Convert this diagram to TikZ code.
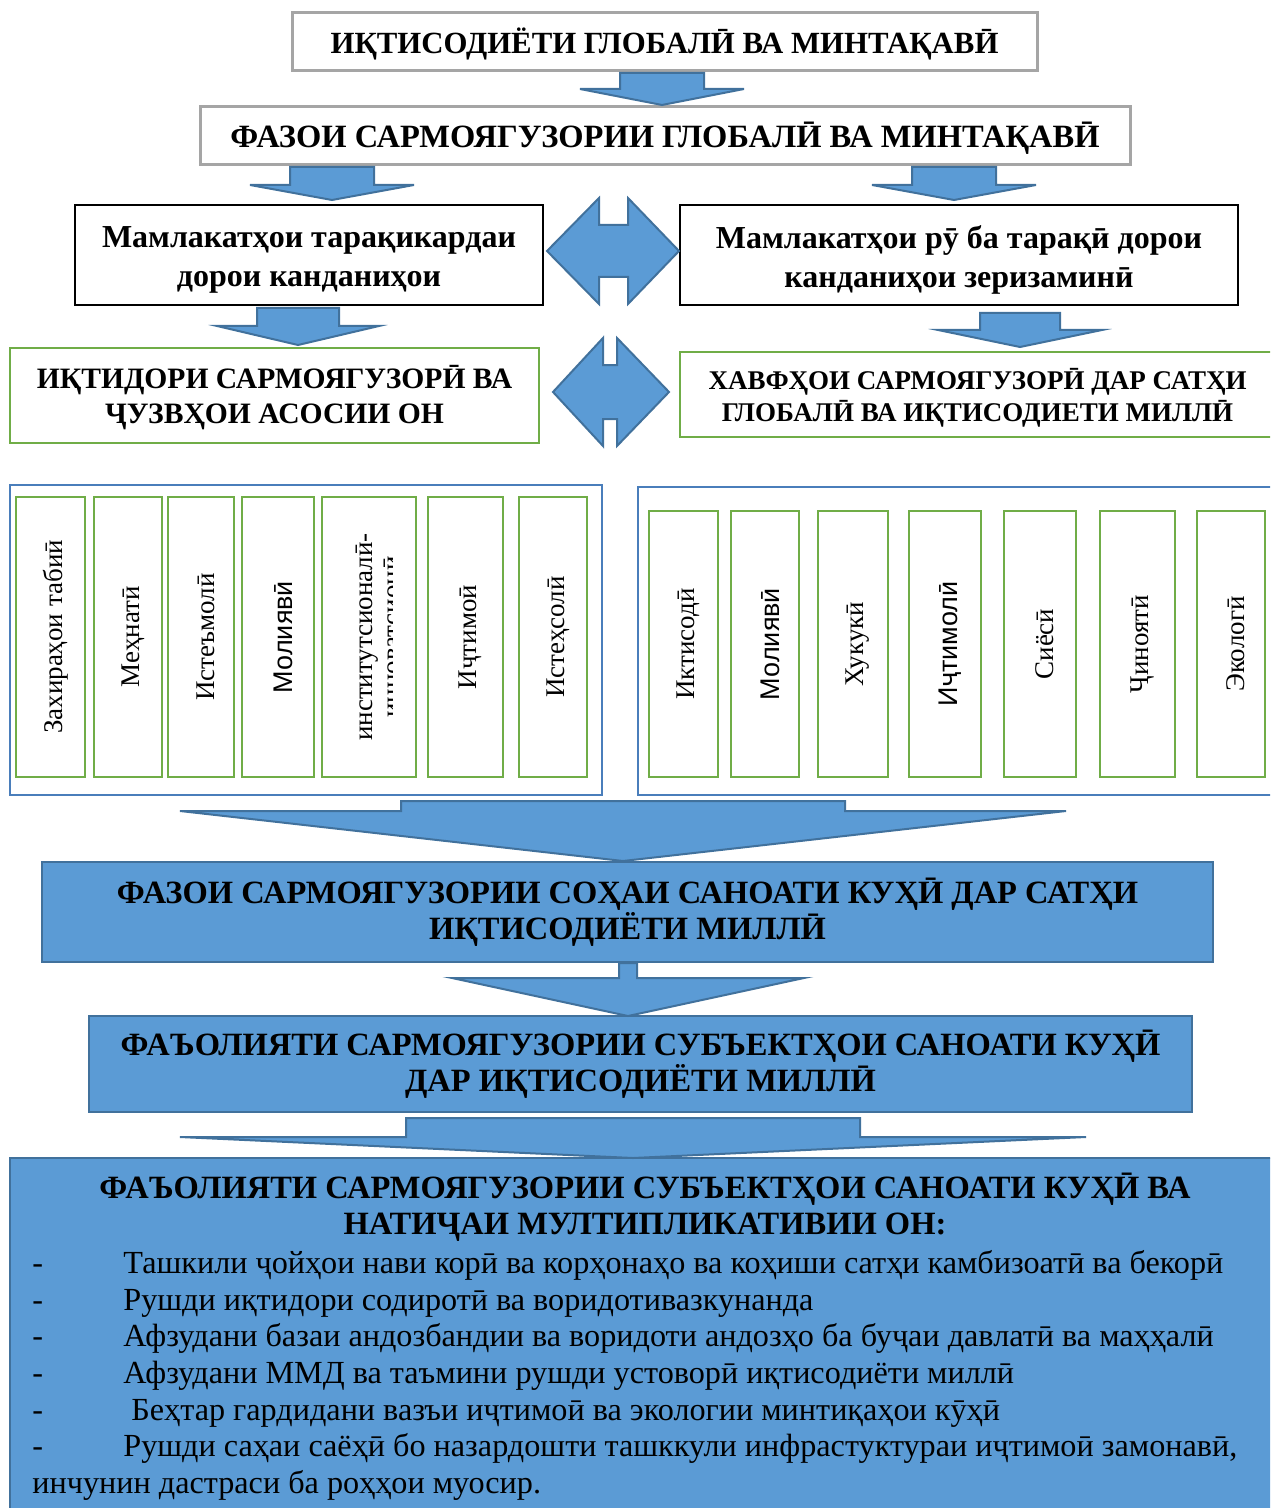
\documentclass[tikz,border=0pt]{standalone}
\usepackage{fontspec}
\setmainfont{Liberation Serif}
\newfontfamily\arialfont{Liberation Sans}
\usetikzlibrary{positioning}

\definecolor{fillblue}{HTML}{5B9BD5}
\definecolor{edgeblue}{HTML}{41719C}
\definecolor{panelblue}{HTML}{4A7EBB}
\definecolor{boxgreen}{HTML}{70AD47}
\definecolor{boxgray}{HTML}{A5A5A5}

\newcommand\headfont{\bfseries\fontsize{16}{19.5}\selectfont}
\newcommand\capsfont{\bfseries\fontsize{16.25}{18}\selectfont}
\newcommand\listfont{\fontsize{16.1}{18.35}\selectfont}
\newcommand\barfont{\fontsize{13.5}{16}\selectfont}
\newcommand\listdash{\makebox[45.5pt][l]{-}}

% block arrow pointing down: x, shaft half, head half, top y, head y, tip y
\newcommand\downblock[6]{%
  \draw[blockarrow] (#1-#2,#4) -- (#1+#2,#4) -- (#1+#2,#5) -- (#1+#3,#5)
    -- (#1,#6) -- (#1-#3,#5) -- (#1-#2,#5) -- cycle;}
% left-right arrow: left x, right x, mid y, notch x1, notch x2, half height, shaft half
\newcommand\twinblock[7]{%
  \draw[blockarrow] (#1,#3) -- (#4,#3-#6) -- (#4,#3-#7) -- (#5,#3-#7)
    -- (#5,#3-#6) -- (#2,#3) -- (#5,#3+#6) -- (#5,#3+#7) -- (#4,#3+#7)
    -- (#4,#3+#6) -- cycle;}

\tikzset{
  blockarrow/.style={fill=fillblue, draw=edgeblue, line width=1pt, line join=miter},
  graybox/.style={draw=boxgray, line width=1.5pt, fill=white, align=center, font=\capsfont},
  blackbox/.style={draw=black, line width=0.8pt, fill=white, align=center, font=\headfont},
  greenbox/.style={draw=boxgreen, line width=1.3pt, fill=white, align=center, font=\capsfont},
  bluebox/.style={draw=edgeblue, line width=1.3pt, fill=fillblue, align=center, font=\capsfont},
  greenbar/.style={draw=boxgreen, line width=1.2pt, rotate=90},
  barlabel/.style={rotate=90, font=\barfont, inner sep=0pt, yshift=-2.5pt},
  panel/.style={draw=panelblue, line width=1pt}
}

\begin{document}
\begin{tikzpicture}[x=0.5pt,y=-0.5pt]
  \clip (0,0) rectangle (1270,1508);

  % upper levels
  \node[graybox, minimum width=372.5pt, minimum height=29pt] (economy) at (664.5,42) {};
  \node[font=\bfseries\fontsize{15.4}{18}\selectfont] (economytext) at (664.5,44)
    {ИҚТИСОДИЁТИ ГЛОБАЛӢ ВА МИНТАҚАВӢ};
  \node[graybox, minimum width=465pt, minimum height=29pt] (space) at (665,136) {};
  \node[font=\capsfont] (spacetext) at (665,138)
    {ФАЗОИ САРМОЯГУЗОРИИ ГЛОБАЛӢ ВА МИНТАҚАВӢ};
  \node[blackbox, minimum width=234pt, minimum height=50pt] (developed) at (309,255) {};
  \node[font=\headfont, align=center] at (309,260)
    {Мамлакатҳои тарақикардаи\\дорои канданиҳои};
  \node[blackbox, minimum width=279pt, minimum height=50pt] (developing) at (959,255) {};
  \node[font=\headfont, align=center] at (959,260)
    {Мамлакатҳои рӯ ба тарақӣ дорои\\канданиҳои зеризаминӣ};
  \node[greenbox, minimum width=264.5pt, minimum height=47.5pt] (potential) at (274.5,395.5) {};
  \node[font=\bfseries\fontsize{14.8}{17.5}\selectfont, align=center] at (274.5,398)
    {ИҚТИДОРИ САРМОЯГУЗОРӢ ВА\\ҶУЗВҲОИ АСОСИИ ОН};
  \node[greenbox, minimum width=297.5pt, minimum height=42.5pt] (risks) at (977.5,394.5) {};
  \node[font=\bfseries\fontsize{13.5}{16}\selectfont, align=center] at (977.5,398)
    {ХАВФҲОИ САРМОЯГУЗОРӢ ДАР САТҲИ\\ГЛОБАЛӢ ВА ИҚТИСОДИЕТИ МИЛЛӢ};

  \downblock{662}{42}{82}{73}{89}{105}
  \downblock{332}{42}{82}{167}{185}{200}
  \downblock{954}{42}{82}{167}{185}{200}
  \downblock{298}{41}{81}{308}{326}{345}
  \downblock{1020}{40}{82}{313}{330}{347}
  \twinblock{547}{679}{251}{599}{628}{53}{26}
  \twinblock{553}{669}{392}{603}{617}{54}{27}

  % panels of components and risks
  \draw[panel] (10,485) rectangle (602,795);
  \draw[panel] (638,487) rectangle (1280,795);
  \foreach \xa/\xb/\txt [count=\i] in {16/85/{Захираҳои табиӣ}, 94/162/Меҳнатӣ,
      168/234/Истеъмолӣ, 242/314/{\arialfont Молиявӣ}, 428/503/Иҷтимоӣ, 519/587/Истеҳсолӣ}
  {
    \node[greenbar, minimum width=140pt, minimum height={(\xb-\xa)*0.5pt}] (partL\i)
      at ({(\xa+\xb)/2},637) {};
    \node[barlabel] at (partL\i) {\txt};
  }
  \begin{scope}
    \clip (322,497) rectangle (392,777);
    \node[rotate=90, font=\fontsize{13.5}{14}\selectfont, align=center] (instlabel)
      at (378,637) {институтсионалӣ-\\инноватсионӣ};
  \end{scope}
  \node[greenbar, minimum width=140pt, minimum height=47pt] (partInst) at (369,637) {};
  \foreach \xa/\xb/\txt [count=\i] in {649/718/Иктисодӣ, 731/799/{\arialfont Молиявӣ},
      818/888/Хукукӣ, 909/981/{\arialfont Иҷтимолӣ}, 1004/1076/Сиёсӣ, 1100/1175/Ҷиноятӣ,
      1197/1265/Экологӣ}
  {
    \node[greenbar, minimum width=133pt, minimum height={(\xb-\xa)*0.5pt}] (partR\i)
      at ({(\xa+\xb)/2},644) {};
    \node[barlabel] at (partR\i) {\txt};
  }

  % lower levels
  \node[bluebox, minimum width=585.5pt, minimum height=50pt] (industry) at (627.5,912)
    {ФАЗОИ САРМОЯГУЗОРИИ СОҲАИ САНОАТИ КУҲӢ ДАР САТҲИ\\ИҚТИСОДИЁТИ МИЛЛӢ};
  \node[bluebox, minimum width=551.5pt, minimum height=48pt] (activity) at (640.5,1064)
    {ФАЪОЛИЯТИ САРМОЯГУЗОРИИ СУБЪЕКТҲОИ САНОАТИ КУҲӢ\\ДАР ИҚТИСОДИЁТИ МИЛЛӢ};
  \node[bluebox, minimum width=645pt, minimum height=181pt] (effects) at (655,1339) {};
  \node[font=\capsfont, align=center] (effecttitle) at (645,1207)
    {ФАЪОЛИЯТИ САРМОЯГУЗОРИИ СУБЪЕКТҲОИ САНОАТИ КУҲӢ ВА\\НАТИҶАИ МУЛТИПЛИКАТИВИИ ОН:};
  \node[font=\listfont, align=left, anchor=north west, inner sep=0pt] (effectlist) at (32,1250)
    {\listdash Ташкили ҷойҳои нави корӣ ва корҳонаҳо ва коҳиши сатҳи камбизоатӣ ва бекорӣ\\
     \listdash Рушди иқтидори содиротӣ ва воридотивазкунанда\\
     \listdash Афзудани базаи андозбандии ва воридоти андозҳо ба буҷаи давлатӣ ва маҳҳалӣ\\
     \listdash Афзудани ММД ва таъмини рушди устоворӣ иқтисодиёти миллӣ\\
     \listdash{} Беҳтар гардидани вазъи иҷтимоӣ ва экологии минтиқаҳои кӯҳӣ\\
     \listdash Рушди саҳаи саёҳӣ бо назардошти ташккули инфрастуктураи иҷтимоӣ замонавӣ,\\
     инчунин дастраси ба роҳҳои муосир.};

  \downblock{623}{222}{443}{801}{811}{861}
  \downblock{628}{9}{176}{963}{978}{1016}
  \downblock{633}{227}{453}{1118}{1137}{1158}
\end{tikzpicture}
\end{document}
